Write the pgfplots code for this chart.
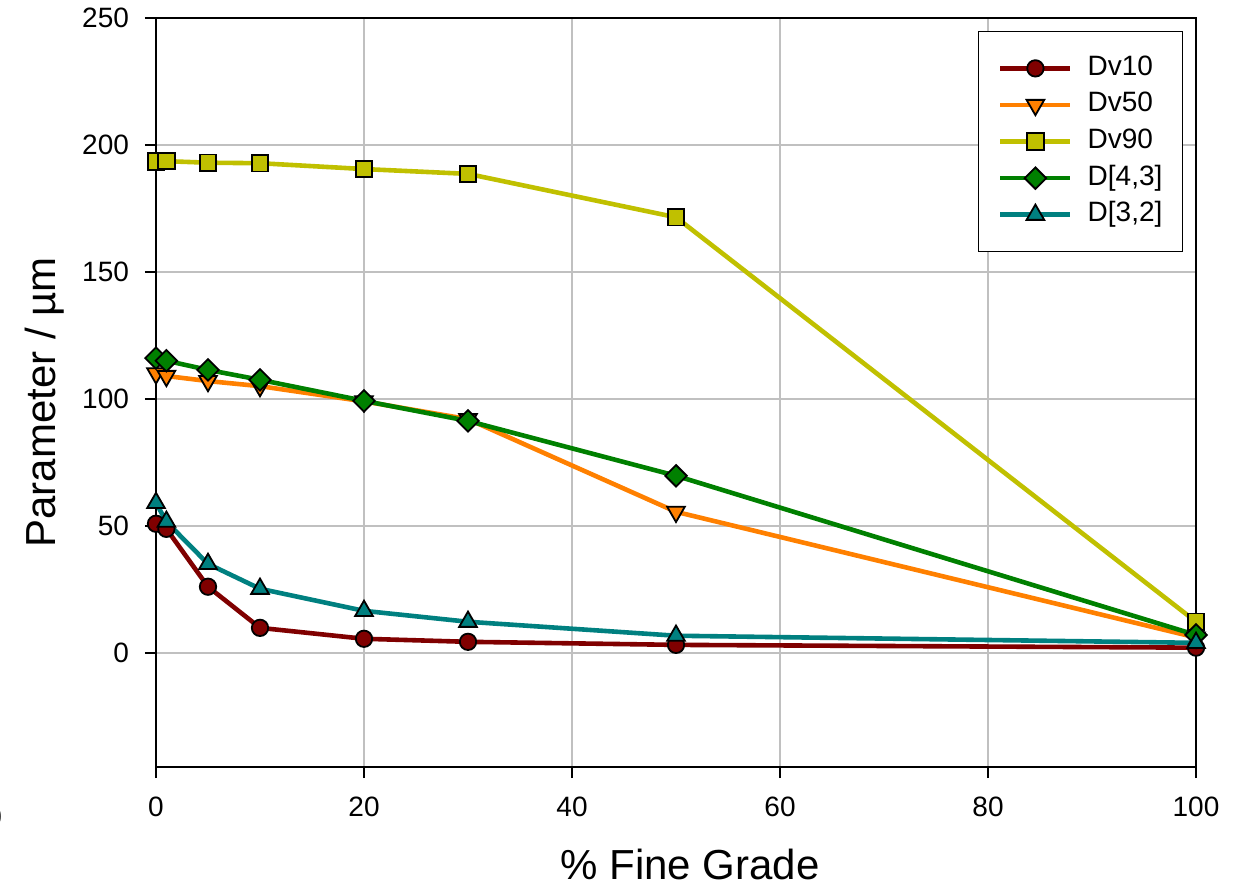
\documentclass[border=0pt]{standalone}
\usepackage{fontspec}
\setmainfont{Liberation Sans}
\usepackage{pgfplots}
\pgfplotsset{compat=1.18}
\definecolor{cDvten}{RGB}{128,0,0}
\definecolor{cDvfifty}{RGB}{255,128,0}
\definecolor{cDvninety}{RGB}{192,192,0}
\definecolor{cDft}{RGB}{0,128,0}
\definecolor{cDtt}{RGB}{0,128,128}
\definecolor{gridgray}{RGB}{192,192,192}
\begin{document}
\begin{tikzpicture}
\begin{axis}[
  scale only axis, width=520pt, height=374.5pt,
  xmin=0, xmax=100, ymin=-45, ymax=250,
  xtick={0,20,...,100}, ytick={0,50,...,250},
  xtick pos=bottom, ytick pos=left,
  grid=major, major grid style={draw=gridgray, line width=1pt},
  axis line style={line width=1pt},
  tick style={black, line width=1pt}, tick align=outside, major tick length=5.5pt,
  /pgf/number format/assume math mode=true,
  ticklabel style={font=\fontsize{14}{16}\selectfont},
  xticklabel style={anchor=base, yshift=-19pt},
  yticklabel style={anchor=east, xshift=-4.5pt},
  xlabel={\% Fine Grade},
  ylabel={Parameter / µm},
  label style={font=\fontsize{21}{24}\selectfont},
  xlabel style={at={([xshift=7pt,yshift=-48.5pt]rel axis cs:0.5,0)}, anchor=center},
  ylabel style={at={([xshift=-55.5pt,yshift=-5pt]rel axis cs:0,0.5)}, anchor=center},
  legend style={at={(rel axis cs:1,1)}, anchor=north east, xshift=-6.5pt, yshift=-6.5pt,
    draw=black, line width=0.6pt, fill=white,
    font=\fontsize{14}{16}\selectfont,
    inner xsep=10pt, inner ysep=11.9pt, row sep=5.3pt, column sep=7.5pt,
    nodes={inner sep=0pt, text height=10pt, text depth=3pt},
    cells={anchor=west}},
  legend image code/.code={\draw[mark repeat=2,mark phase=2] plot coordinates {(0pt,0pt) (17.5pt,0pt) (35pt,0pt)};},
]
\addplot[color=cDvten, line width=2.3pt, mark=*, mark size=4.1pt, mark options={fill=cDvten, draw=black, line width=0.9pt, solid}]
  coordinates {(0,50.8) (1,48.8) (5,26) (10,9.8) (20,5.5) (30,4.3) (50,3.1) (100,2)};
\addlegendentry{Dv10}
\addplot[color=cDvfifty, line width=2.3pt, mark=triangle*, mark size=5.1pt, mark options={fill=cDvfifty, draw=black, line width=0.9pt, rotate=180, solid}]
  coordinates {(0,110) (1,109) (5,107) (10,105) (20,99) (30,92) (50,55.5) (100,6)};
\addlegendentry{Dv50}
\addplot[color=cDvninety, line width=2.3pt, mark=square*, mark size=4.1pt, mark options={fill=cDvninety, draw=black, line width=0.9pt, solid}]
  coordinates {(0,193.5) (1,193.6) (5,193) (10,192.8) (20,190.5) (30,188.6) (50,171.5) (100,12.2)};
\addlegendentry{Dv90}
\addplot[color=cDft, line width=2.3pt, mark=square*, mark size=3.8pt, mark options={fill=cDft, draw=black, line width=0.9pt, rotate=45, solid}]
  coordinates {(0,116) (1,115) (5,111.4) (10,107.5) (20,99.2) (30,91.3) (50,69.7) (100,7)};
\addlegendentry{D[4,3]}
\addplot[color=cDtt, line width=2.3pt, mark=triangle*, mark size=5.1pt, mark options={fill=cDtt, draw=black, line width=0.9pt, solid}]
  coordinates {(0,59) (1,51.6) (5,35) (10,25.2) (20,16.5) (30,12.2) (50,6.7) (100,3.9)};
\addlegendentry{D[3,2]}
\end{axis}
\node[anchor=base east, inner sep=0pt, font=\fontsize{14}{16}\selectfont] at (-76.8pt,-30pt) {0};
\pgfresetboundingbox
\path[use as bounding box] (-78pt,-60pt) rectangle (544.5pt,383.5pt);
\end{tikzpicture}
\end{document}
